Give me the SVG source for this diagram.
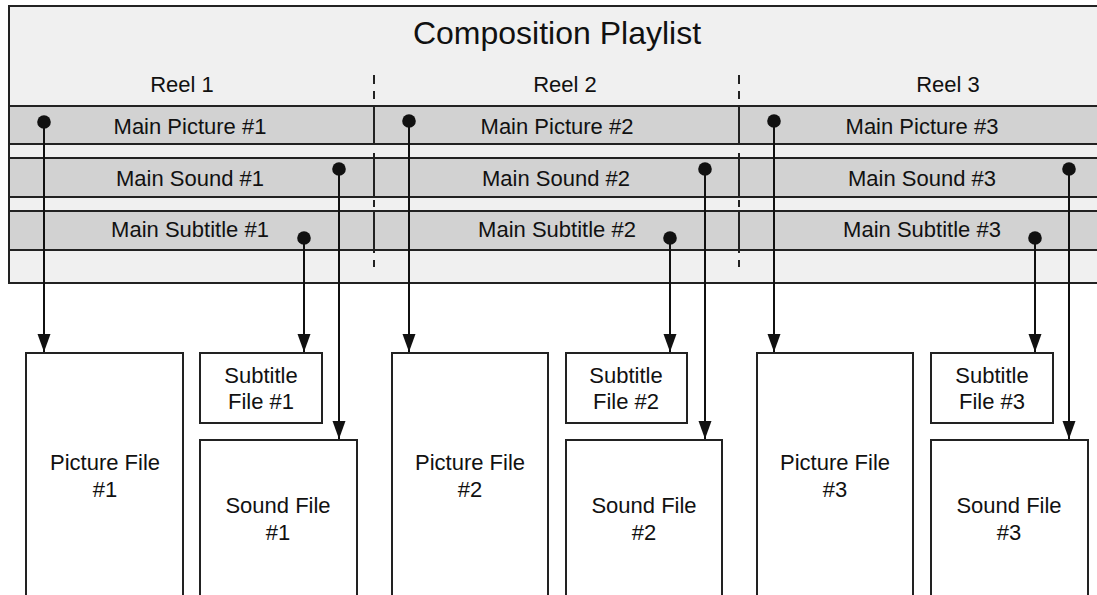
<svg xmlns="http://www.w3.org/2000/svg" width="1097" height="595" viewBox="0 0 1097 595">
  <style>
    .t { font-family: "Liberation Sans", Arial, sans-serif; font-size: 22px; fill: #111; text-anchor: middle; }
    .title { font-size: 32px; }
    .outer { fill: #f0f0f0; stroke: #222; stroke-width: 2; }
    .row { fill: #d2d2d2; stroke: #222; stroke-width: 2; }
    .div { stroke: #222; stroke-width: 2; fill: none; }
    .box { fill: #fff; stroke: #222; stroke-width: 2; }
    .conn { stroke: #111; stroke-width: 2; fill: none; marker-start: url(#dot); marker-end: url(#arr); }
  </style>
  <defs>
    <marker id="arr" markerUnits="userSpaceOnUse" markerWidth="18" markerHeight="14" refX="18" refY="7" orient="auto">
      <path d="M0,0.5 L18,7 L0,13.5 z" fill="#111"/>
    </marker>
    <marker id="dot" markerUnits="userSpaceOnUse" markerWidth="16" markerHeight="16" refX="8" refY="8" orient="auto">
      <circle cx="8" cy="8" r="6.8" fill="#111"/>
    </marker>
  </defs>
  <rect width="1097" height="595" fill="#fff"/>

  <g id="playlist">
    <rect class="outer" x="9" y="6" width="1100" height="277"/>
    <text class="t title" x="557" y="44">Composition Playlist</text>
    <text class="t" x="182" y="92">Reel 1</text>
    <text class="t" x="565" y="92">Reel 2</text>
    <text class="t" x="948" y="92">Reel 3</text>
    <rect class="row" x="9" y="106" width="1100" height="38"/>
    <rect class="row" x="9" y="158" width="1100" height="39"/>
    <rect class="row" x="9" y="211" width="1100" height="39"/>
    <path class="div" d="M374,75 V84 M374,91 V99 M374,106 V144 M374,153 V197 M374,200 V207 M374,211 V253 M374,260 V267"/>
    <path class="div" d="M739,75 V84 M739,91 V99 M739,106 V144 M739,153 V197 M739,200 V207 M739,211 V253 M739,260 V267"/>
    <text class="t" x="190" y="134">Main Picture #1</text>
    <text class="t" x="557" y="134">Main Picture #2</text>
    <text class="t" x="922" y="134">Main Picture #3</text>
    <text class="t" x="190" y="186">Main Sound #1</text>
    <text class="t" x="556" y="186">Main Sound #2</text>
    <text class="t" x="922" y="186">Main Sound #3</text>
    <text class="t" x="190" y="237">Main Subtitle #1</text>
    <text class="t" x="557" y="237">Main Subtitle #2</text>
    <text class="t" x="922" y="237">Main Subtitle #3</text>
  </g>

  <g id="picture-file-1">
    <rect class="box" x="26" y="353" width="157" height="260"/>
    <text class="t" x="105" y="470">Picture File</text>
    <text class="t" x="105" y="497">#1</text>
  </g>
  <g id="subtitle-file-1">
    <rect class="box" x="200" y="353" width="122" height="70"/>
    <text class="t" x="261" y="383">Subtitle</text>
    <text class="t" x="261" y="409">File #1</text>
  </g>
  <g id="sound-file-1">
    <rect class="box" x="200" y="440" width="157" height="170"/>
    <text class="t" x="278" y="513">Sound File</text>
    <text class="t" x="278" y="540">#1</text>
  </g>

  <g id="picture-file-2">
    <rect class="box" x="392" y="353" width="156" height="260"/>
    <text class="t" x="470" y="470">Picture File</text>
    <text class="t" x="470" y="497">#2</text>
  </g>
  <g id="subtitle-file-2">
    <rect class="box" x="566" y="353" width="121" height="70"/>
    <text class="t" x="626" y="383">Subtitle</text>
    <text class="t" x="626" y="409">File #2</text>
  </g>
  <g id="sound-file-2">
    <rect class="box" x="566" y="440" width="156" height="170"/>
    <text class="t" x="644" y="513">Sound File</text>
    <text class="t" x="644" y="540">#2</text>
  </g>

  <g id="picture-file-3">
    <rect class="box" x="757" y="353" width="156" height="260"/>
    <text class="t" x="835" y="470">Picture File</text>
    <text class="t" x="835" y="497">#3</text>
  </g>
  <g id="subtitle-file-3">
    <rect class="box" x="931" y="353" width="122" height="70"/>
    <text class="t" x="992" y="383">Subtitle</text>
    <text class="t" x="992" y="409">File #3</text>
  </g>
  <g id="sound-file-3">
    <rect class="box" x="931" y="440" width="157" height="170"/>
    <text class="t" x="1009" y="513">Sound File</text>
    <text class="t" x="1009" y="540">#3</text>
  </g>

  <g id="connectors">
    <path class="conn" d="M44,122 V352"/>
    <path class="conn" d="M339,169 V439"/>
    <path class="conn" d="M304,238 V352"/>
    <path class="conn" d="M409,121 V352"/>
    <path class="conn" d="M705,169 V439"/>
    <path class="conn" d="M670,238 V352"/>
    <path class="conn" d="M774,121 V352"/>
    <path class="conn" d="M1069,169 V439"/>
    <path class="conn" d="M1035,238 V352"/>
  </g>
</svg>
